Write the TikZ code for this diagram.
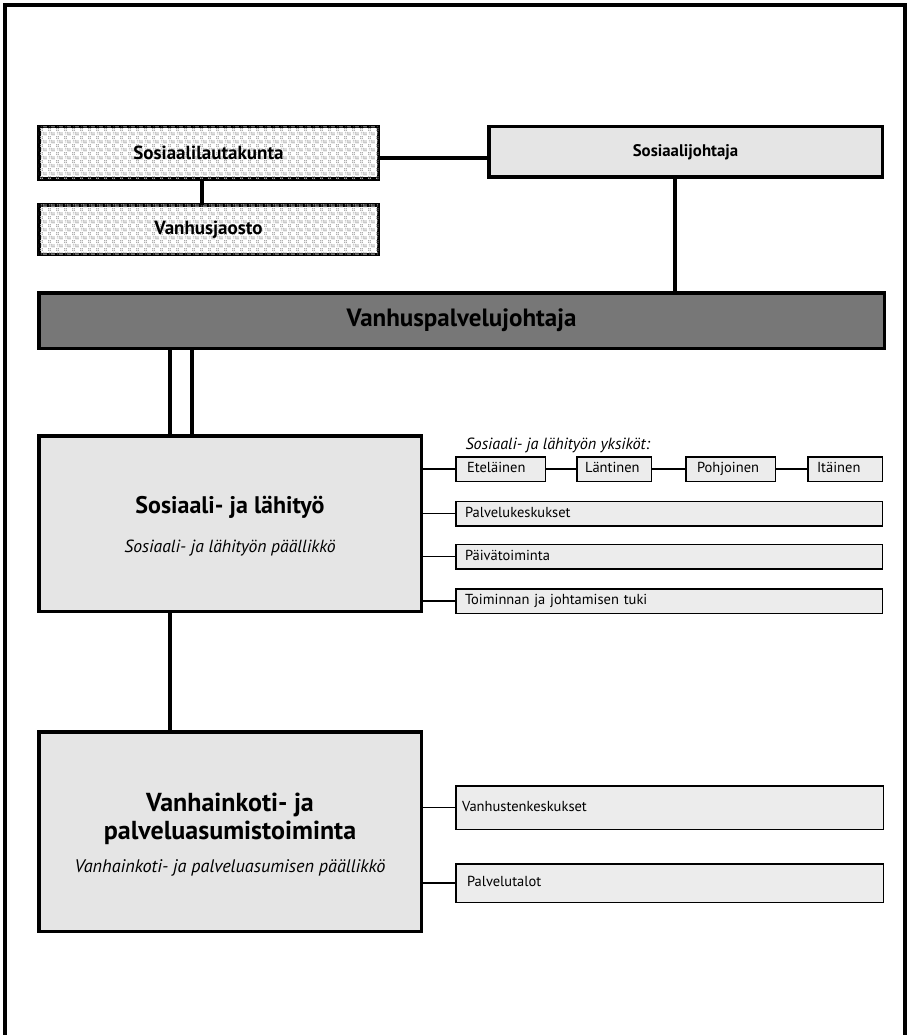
\documentclass[tikz,border=0pt]{standalone}
\usepackage{fontspec}
\setmainfont{PT Sans}
\usetikzlibrary{patterns}

% light mosaic texture for the committee boxes: dotted and blank cells in a checker
\pgfdeclarepatternformonly{mosaic}{\pgfpointorigin}{\pgfpoint{8pt}{8pt}}{\pgfpoint{8pt}{8pt}}{%
  \foreach \i in {0,2}{\foreach \j in {0,2}{%
    \pgfpathrectangle{\pgfpoint{\i pt}{\j pt}}{\pgfpoint{1.3pt}{1.3pt}}}}%
  \foreach \i in {4,6}{\foreach \j in {4,6}{%
    \pgfpathrectangle{\pgfpoint{\i pt}{\j pt}}{\pgfpoint{1.3pt}{1.3pt}}}}%
  \foreach \i in {1,3}{\foreach \j in {5,7}{%
    \pgfpathrectangle{\pgfpoint{\i pt}{\j pt}}{\pgfpoint{1pt}{1pt}}}}%
  \pgfusepath{fill}%
}

\definecolor{boxgray}{HTML}{E5E5E5}
\definecolor{subgray}{HTML}{ECECEC}
\definecolor{headgray}{HTML}{777777}

\tikzset{
  bigbox/.style={draw=black, line width=3.5pt, inner sep=0pt, outer sep=0pt, align=center},
  committee/.style={bigbox, fill=white, postaction={pattern=mosaic, pattern color=black!32},
    font=\bfseries\fontsize{19}{22}\selectfont},
  unitbox/.style={draw=black, line width=1.5pt, fill=subgray, inner sep=0pt, outer sep=0pt,
    minimum height=24.5pt, text height=10.5pt, text depth=3.5pt,
    font=\fontsize{14.5}{16}\selectfont},
  wide/.style={unitbox, minimum width=426.5pt, text width=408pt, align=left},
  thick/.style={line width=3.5pt},
  thin/.style={line width=1.5pt},
  frame/.style={line width=4pt},
}

\begin{document}
\begin{tikzpicture}[x=1pt, y=-1pt]
\useasboundingbox (0,0) rectangle (906,1035);

% page frame, open at the bottom
\draw[frame] (5,1045) -- (5,5) -- (905,5) -- (905,1045);

% governing bodies
\node[committee, minimum width=339.5pt, minimum height=52.5pt] (lauta) at (208.5,153) {Sosiaalilautakunta};
\node[committee, minimum width=339.5pt, minimum height=49.5pt] (jaosto) at (208.5,229.5) {Vanhusjaosto};
\node[bigbox, fill=boxgray, minimum width=393.5pt, minimum height=50.5pt,
      font=\bfseries\fontsize{16.8}{20}\selectfont] (sosjoht) at (685.5,152) {Sosiaalijohtaja};

% director
\node[bigbox, fill=headgray, minimum width=845.5pt, minimum height=55.5pt,
      font=\bfseries\fontsize{25}{28}\selectfont] (vpj) at (461.5,320.5) {Vanhuspalvelujohtaja};

% service areas
\node[bigbox, fill=boxgray, minimum width=382.5pt, minimum height=175.5pt] (sosl) at (230,523.5) {};
\node[font=\bfseries\fontsize{24}{26}\selectfont] (soslt) at (230,507) {Sosiaali- ja lähityö};
\node[font=\itshape\fontsize{17.6}{20}\selectfont] (sosls) at (230,548) {Sosiaali- ja lähityön päällikkö};

\node[bigbox, fill=boxgray, minimum width=382.5pt, minimum height=199.5pt] (vk) at (230,831.5) {};
\node[font=\bfseries\fontsize{26}{28.5}\selectfont, align=center] (vkt) at (230,819) {Vanhainkoti- ja\\palveluasumistoiminta};
\node[font=\itshape\fontsize{18.2}{20}\selectfont] (vks) at (230,868) {Vanhainkoti- ja palveluasumisen päällikkö};

% units of Sosiaali- ja lähityö
\node[font=\itshape\fontsize{16.2}{18}\selectfont, anchor=west] (ykshead) at (462,445) {Sosiaali- ja lähityön yksiköt:};
\node[unitbox, minimum width=89.5pt, text width=67pt, align=left] (etel) at (500.5,469) {Eteläinen};
\node[unitbox, minimum width=74.5pt, text width=58pt, align=left] (lant) at (614,469) {Läntinen};
\node[unitbox, minimum width=89.5pt, text width=67pt, align=left] (pohj) at (730.5,469) {Pohjoinen};
\node[unitbox, minimum width=74.5pt, text width=56pt, align=left] (itai) at (845,469) {Itäinen};

\node[wide] (palvk) at (669,513.5) {Palvelukeskukset};
\node[wide] (paiv) at (669,556.5) {Päivätoiminta};
\node[wide] (toim) at (669,601) {Toiminnan ja johtamisen tuki};

% units of Vanhainkoti- ja palveluasumistoiminta
\node[unitbox, minimum width=427.5pt, minimum height=43.5pt, text width=415pt, align=left] (vanhk) at (669.5,807.5) {Vanhustenkeskukset};
\node[unitbox, minimum width=427.5pt, minimum height=38.5pt, text width=405pt, align=left] (palvt) at (669.5,883) {Palvelutalot};

% connectors
\draw[thick] (202,0 |- lauta.south) -- (202,0 |- jaosto.north);
\draw[thick] (lauta.east |- 0,158) -- (sosjoht.west |- 0,158);
\draw[thick] (675,0 |- sosjoht.south) -- (675,0 |- vpj.north);
\draw[thick] (170,0 |- vpj.south) -- (170,0 |- sosl.north);
\draw[thick] (192,0 |- vpj.south) -- (192,0 |- sosl.north);
\draw[thick] (170,0 |- sosl.south) -- (170,0 |- vk.north);

\draw[thin] (sosl.east |- etel.west) -- (etel.west);
\draw[thin] (etel.east) -- (lant.west);
\draw[thin] (lant.east) -- (pohj.west);
\draw[thin] (pohj.east) -- (itai.west);
\draw[thin] (sosl.east |- palvk.west) -- (palvk.west);
\draw[thin] (sosl.east |- paiv.west) -- (paiv.west);
\draw[thin] (sosl.east |- toim.west) -- (toim.west);

\draw[thin] (vk.east |- vanhk.west) -- (vanhk.west);
\draw[thin] (vk.east |- palvt.west) -- (palvt.west);
\end{tikzpicture}
\end{document}
